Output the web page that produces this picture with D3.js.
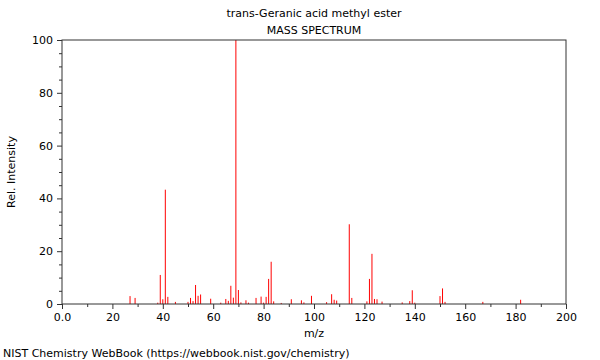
<!DOCTYPE html>
<html>
<head>
<meta charset="utf-8">
<script src="https://cdn.jsdelivr.net/npm/d3@7"></script>
<style>
  body { margin: 0; background: #fff; }
  svg text { font-family: "DejaVu Sans", sans-serif; fill: #000; }
</style>
</head>
<body>
<div id="chart"></div>
<script>
// Peak positions (m/z) and relative intensities
const mz = [27, 29, 38, 39, 40, 41, 42, 45, 50, 51, 52, 53, 54, 55, 59, 63, 65, 66, 67, 68, 69, 70, 71, 73, 74,
  77, 79, 80, 81, 82, 83, 84, 87, 91, 95, 96, 99, 105, 107, 108, 109, 114, 115, 121, 122, 123, 124, 125, 127,
  135, 138, 139, 140, 150, 151, 152, 167, 182];
const intensity = [3.0, 2.3, 0.5, 11.0, 1.8, 43.3, 2.7, 0.8, 0.8, 2.3, 1.1, 7.2, 3.1, 3.6, 2.0, 0.5, 1.9, 1.2, 6.9, 2.4, 100, 5.3, 0.6, 1.4, 0.5,
  2.3, 2.8, 0.5, 2.7, 9.5, 16.0, 1.0, 0.4, 1.8, 1.4, 0.6, 3.1, 0.7, 3.7, 1.6, 1.3, 30.2, 2.3, 1.0, 9.5, 19.0, 1.9, 1.8, 0.9,
  0.6, 1.1, 5.2, 0.5, 3.0, 5.9, 0.8, 0.8, 1.6];

const xTicks = [0, 20, 40, 60, 80, 100, 120, 140, 160, 180, 200];
const yTicks = [0, 20, 40, 60, 80, 100];

const W = 600, H = 360;
const margin = { top: 40, right: 34, bottom: 56, left: 62 };
const width = W - margin.left - margin.right;
const height = H - margin.top - margin.bottom;

const svg = d3.select('#chart').append('svg')
  .attr('width', W)
  .attr('height', H);

const g = svg.append('g')
  .attr('transform', `translate(${margin.left},${margin.top})`);

const x = d3.scaleLinear().domain([0, 200]).range([0, width]);
const y = d3.scaleLinear().domain([0, 100]).range([height, 0]);

// Peaks
g.selectAll('line.peak')
  .data(mz.map((m, i) => ({ m, v: intensity[i] })))
  .join('line')
  .attr('class', 'peak')
  .attr('x1', d => x(d.m))
  .attr('x2', d => x(d.m))
  .attr('y1', y(0))
  .attr('y2', d => y(d.v))
  .attr('stroke', '#ff0000')
  .attr('stroke-width', 1);

// Minor ticks
const xAxisMinor = d3.axisBottom(x).tickValues(d3.range(10, 200, 20)).tickSize(3).tickFormat('');
const yAxisMinor = d3.axisLeft(y).tickValues(d3.range(5, 100, 5).filter(v => v % 20 !== 0)).tickSize(3).tickFormat('');

g.append('g').attr('transform', `translate(0,${height})`).call(xAxisMinor);
g.append('g').call(yAxisMinor);

// Major ticks
g.append('g')
  .attr('class', 'x-axis')
  .attr('transform', `translate(0,${height})`)
  .call(d3.axisBottom(x).tickValues(xTicks).tickSize(5).tickPadding(4)
    .tickFormat(d => d === 0 ? '0.0' : d));

g.append('g')
  .attr('class', 'y-axis')
  .call(d3.axisLeft(y).tickValues(yTicks).tickSize(5).tickPadding(4));

g.selectAll('.domain').remove();
g.selectAll('.tick line').attr('stroke', '#333');
g.selectAll('.tick text').style('font-size', '11px');

// Frame
g.append('rect')
  .attr('x', 0).attr('y', 0)
  .attr('width', width).attr('height', height)
  .attr('fill', 'none')
  .attr('stroke', '#333')
  .attr('stroke-width', 1);

// Titles
svg.append('text')
  .attr('x', margin.left + width / 2).attr('y', 17)
  .attr('text-anchor', 'middle')
  .style('font-size', '11px')
  .text('trans-Geranic acid methyl ester');

svg.append('text')
  .attr('x', margin.left + width / 2).attr('y', 34)
  .attr('text-anchor', 'middle')
  .style('font-size', '11px')
  .text('MASS SPECTRUM');

svg.append('text')
  .attr('x', margin.left + width / 2).attr('y', 337)
  .attr('text-anchor', 'middle')
  .style('font-size', '11px')
  .text('m/z');

svg.append('text')
  .attr('transform', `translate(15,${margin.top + height / 2}) rotate(-90)`)
  .attr('text-anchor', 'middle')
  .style('font-size', '11px')
  .text('Rel. Intensity');

svg.append('text')
  .attr('x', 3).attr('y', 357)
  .style('font-size', '11px')
  .text('NIST Chemistry WebBook (https://webbook.nist.gov/chemistry)');
</script>
</body>
</html>
